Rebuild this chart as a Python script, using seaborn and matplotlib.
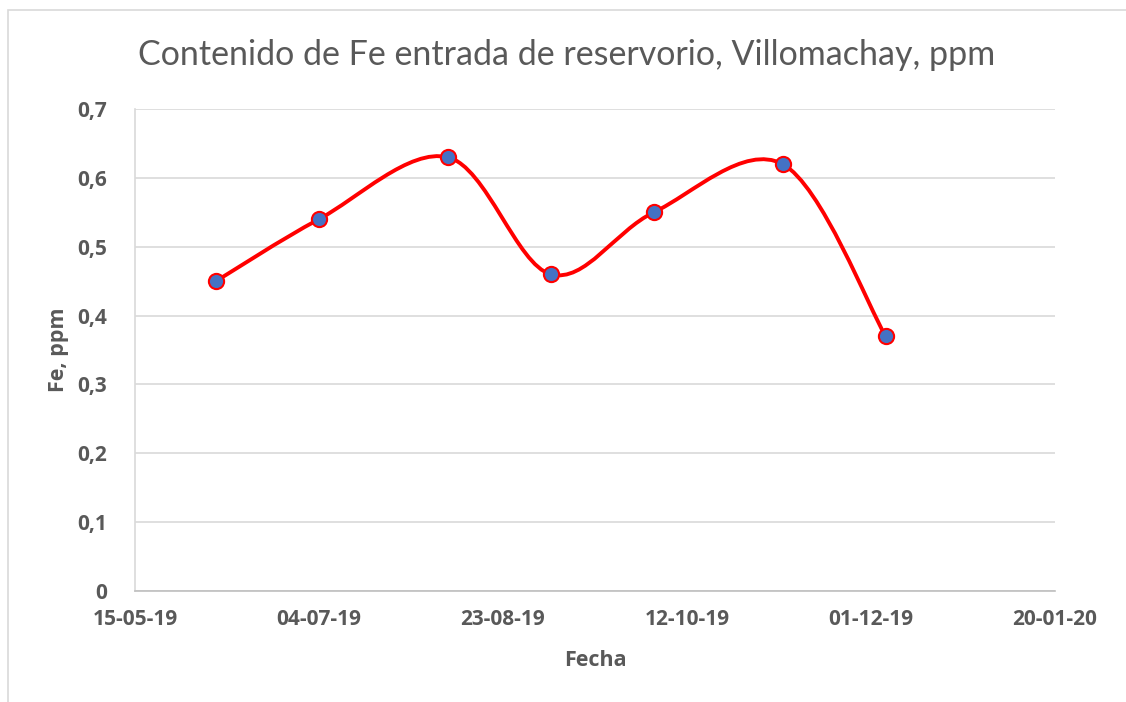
import matplotlib
matplotlib.use("Agg")
import matplotlib.pyplot as plt
import matplotlib.dates as mdates
from matplotlib.path import Path
from matplotlib.patches import PathPatch, Rectangle
import numpy as np
import pandas as pd
import seaborn as sns

# Data
fechas = ["2019-06-06", "2019-07-04", "2019-08-08", "2019-09-05",
          "2019-10-03", "2019-11-07", "2019-12-05"]
fe_ppm = [0.45, 0.54, 0.63, 0.46, 0.55, 0.62, 0.37]
x_ticks = ["2019-05-15", "2019-07-04", "2019-08-23", "2019-10-12",
           "2019-12-01", "2020-01-20"]
y_ticks = [0, 0.1, 0.2, 0.3, 0.4, 0.5, 0.6, 0.7]

GRAY = "#595959"
BOLD_FONT = ["Open Sans", "DejaVu Sans"]


def smooth_path(xs, ys):
    # Excel-style smoothed line: cubic Bezier segments through the points
    pts = np.column_stack([xs, ys])
    n = len(pts)
    verts = [pts[0]]
    codes = [Path.MOVETO]
    for i in range(n - 1):
        p0 = pts[i - 1] if i > 0 else pts[i]
        p1 = pts[i]
        p2 = pts[i + 1]
        p3 = pts[i + 2] if i + 2 < n else pts[i + 1]
        c1 = p1 + (p2 - p0) / 6.0
        c2 = p2 - (p3 - p1) / 6.0
        verts += [c1, c2, p2]
        codes += [Path.CURVE4] * 3
    return Path(verts, codes)


def main():
    sns.set_style("white")
    plt.rcParams["font.family"] = ["Lato", "DejaVu Sans"]

    df = pd.DataFrame({"Fecha": pd.to_datetime(fechas), "Fe": fe_ppm})

    fig = plt.figure(figsize=(11.26, 7.02), dpi=100)
    ax = fig.add_axes([0.1199, 0.1581, 0.9369 - 0.1199, 0.8447 - 0.1581])

    # chart frame border
    fig.patches.append(Rectangle((8 / 1126, -0.1), 1.2, 1 - 10 / 702 + 0.1,
                                 transform=fig.transFigure, fill=False,
                                 edgecolor="#d9d9d9", linewidth=1.2))

    xnum = mdates.date2num(df["Fecha"])
    ax.add_patch(PathPatch(smooth_path(xnum, df["Fe"].values),
                           facecolor="none", edgecolor="#ff0000",
                           linewidth=2.8, zorder=3))
    sns.scatterplot(data=df, x="Fecha", y="Fe", ax=ax, s=120,
                    color="#4472c4", edgecolor="#ff0000", linewidth=1.5,
                    zorder=4, legend=False)

    xt = pd.to_datetime(x_ticks)
    ax.set_xlim(xt[0], xt[-1])
    ax.set_xticks(xt)
    ax.set_xticklabels([d.strftime("%d-%m-%y") for d in xt])
    ax.set_ylim(0, 0.7)
    ax.set_yticks(y_ticks)
    ax.set_yticklabels([("%g" % v).replace(".", ",") for v in y_ticks])

    ax.grid(axis="y", color="#d9d9d9", linewidth=1.2)
    ax.grid(axis="x", visible=False)
    ax.tick_params(axis="both", length=0, labelcolor=GRAY)
    ax.tick_params(axis="x", pad=13)
    ax.tick_params(axis="y", pad=20)
    for lab in ax.get_xticklabels() + ax.get_yticklabels():
        lab.set_fontweight("bold")
        lab.set_family(BOLD_FONT)
        lab.set_fontsize(15)

    for side in ["top", "right"]:
        ax.spines[side].set_visible(False)
    ax.spines["left"].set_color("#d9d9d9")
    ax.spines["bottom"].set_color("#bfbfbf")
    ax.spines["left"].set_linewidth(1.2)
    ax.spines["bottom"].set_linewidth(1.2)

    ax.set_xlabel("Fecha", fontsize=15.5, fontweight="bold", color=GRAY,
                  labelpad=14, family=BOLD_FONT)
    ax.set_ylabel("Fe, ppm", fontsize=15.5, fontweight="bold", color=GRAY,
                  labelpad=6, family=BOLD_FONT)

    fig.text(567 / 1126, 1 - 55 / 702,
             "Contenido de Fe entrada de reservorio, Villomachay, ppm",
             ha="center", va="center", fontsize=24.5, color=GRAY)

    fig.savefig("out.png", dpi=100)
    plt.close(fig)


if __name__ == "__main__":
    main()
